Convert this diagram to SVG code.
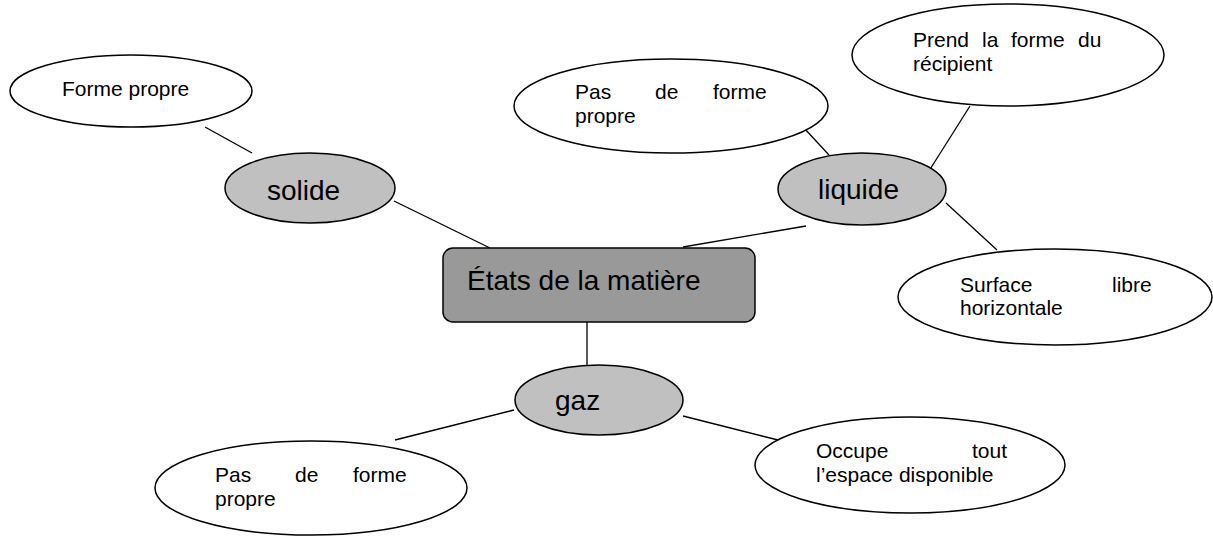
<svg xmlns="http://www.w3.org/2000/svg" width="1213" height="536" viewBox="0 0 1213 536">
<style>
.e{fill:#fff;stroke:#000;stroke-width:1.5}
.g{fill:#c0c0c0;stroke:#000;stroke-width:1.5}
.t{font-family:"Liberation Sans",Arial,sans-serif;font-size:21px;fill:#000}
.b{font-family:"Liberation Sans",Arial,sans-serif;font-size:28px;fill:#000}
.c line{stroke:#000;stroke-width:1.3}
</style>
<rect width="1213" height="536" fill="#fff"/>
<g class="c" id="connectors">
<line x1="205" y1="127" x2="252" y2="153"/>
<line x1="394" y1="201" x2="490" y2="248"/>
<line x1="683" y1="247" x2="806" y2="226"/>
<line x1="804" y1="128" x2="829" y2="155"/>
<line x1="970" y1="106" x2="922" y2="182"/>
<line x1="946" y1="203" x2="997" y2="250"/>
<line x1="587" y1="322" x2="587" y2="366"/>
<line x1="514" y1="410" x2="395" y2="440"/>
<line x1="683" y1="416" x2="778" y2="440"/>
</g>
<g id="center">
<rect x="443" y="248" width="312" height="74" rx="10" fill="#999" stroke="#000" stroke-width="1.5"/>
<text class="b" x="467" y="290" font-size="29">États de la matière</text>
</g>
<g id="solide">
<ellipse class="g" cx="310" cy="188" rx="85" ry="35"/>
<text class="b" x="267" y="200">solide</text>
</g>
<g id="forme-propre">
<ellipse class="e" cx="131" cy="91" rx="121" ry="36"/>
<text class="t" x="62" y="96">Forme propre</text>
</g>
<g id="liquide">
<ellipse class="g" cx="862" cy="189" rx="84" ry="36"/>
<text class="b" x="818" y="199">liquide</text>
</g>
<g id="pas-forme-liquide">
<ellipse class="e" cx="671" cy="106" rx="157" ry="47"/>
<text class="t"><tspan x="575" y="99">Pas</tspan><tspan x="655" y="99">de</tspan><tspan x="713" y="99">forme</tspan><tspan x="575" y="123">propre</tspan></text>
</g>
<g id="prend-forme">
<ellipse class="e" cx="1008" cy="55" rx="156" ry="51"/>
<text class="t"><tspan x="913" y="47">Prend</tspan><tspan x="982" y="47">la</tspan><tspan x="1011" y="47">forme</tspan><tspan x="1078" y="47">du</tspan><tspan x="913" y="71">récipient</tspan></text>
</g>
<g id="surface-libre">
<ellipse class="e" cx="1055" cy="297" rx="157" ry="48"/>
<text class="t"><tspan x="960" y="292">Surface</tspan><tspan x="1112" y="292">libre</tspan><tspan x="960" y="315">horizontale</tspan></text>
</g>
<g id="gaz">
<ellipse class="g" cx="599" cy="400" rx="84" ry="35"/>
<text class="b" x="555" y="410">gaz</text>
</g>
<g id="pas-forme-gaz">
<ellipse class="e" cx="311" cy="488" rx="156" ry="47"/>
<text class="t"><tspan x="215" y="482">Pas</tspan><tspan x="295" y="482">de</tspan><tspan x="353" y="482">forme</tspan><tspan x="215" y="506">propre</tspan></text>
</g>
<g id="occupe">
<ellipse class="e" cx="910" cy="465" rx="155" ry="48"/>
<text class="t"><tspan x="816" y="458">Occupe</tspan><tspan x="972" y="458">tout</tspan><tspan x="816" y="482">l’espace disponible</tspan></text>
</g>
</svg>
